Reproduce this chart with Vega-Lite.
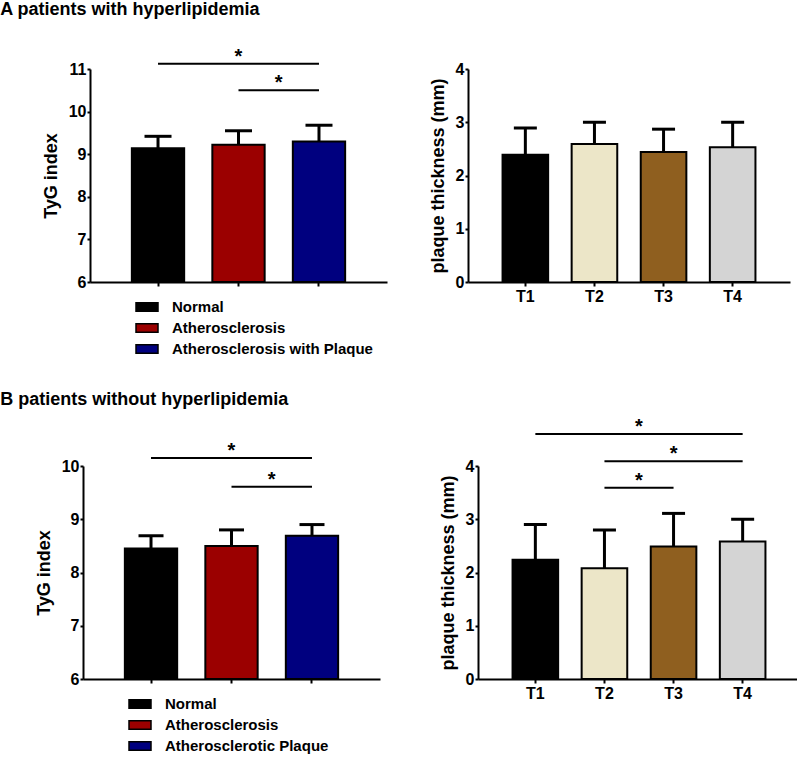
{
  "$schema": "https://vega.github.io/schema/vega-lite/v6.json",
  "padding": {"left": 0, "top": 0, "right": 0, "bottom": 0},
  "background": "white",
  "config": {
    "font": "Liberation Sans",
    "view": {"stroke": null},
    "axis": {"domainColor": "black", "domainWidth": 2, "tickColor": "black", "tickWidth": 2, "labelFontWeight": "bold", "labelFontSize": 16, "labelColor": "black", "titleFontSize": 18, "titleFontWeight": "bold", "titleColor": "black", "grid": false},
    "legend": {"padding": 0}
  },
  "datasets": {
    "tygA": [
      {"group": "Normal", "mean": 9.14, "upper": 9.42},
      {"group": "Atherosclerosis", "mean": 9.22, "upper": 9.55},
      {"group": "Atherosclerosis with Plaque", "mean": 9.30, "upper": 9.68}
    ],
    "sigA": [
      {"from": "Normal", "to": "Atherosclerosis with Plaque", "mid": 1, "y": 11.125},
      {"from": "Atherosclerosis", "to": "Atherosclerosis with Plaque", "mid": 1.5, "y": 10.5}
    ],
    "thickA": [
      {"t": "T1", "mean": 2.39, "upper": 2.89},
      {"t": "T2", "mean": 2.59, "upper": 3.0},
      {"t": "T3", "mean": 2.44, "upper": 2.87},
      {"t": "T4", "mean": 2.53, "upper": 3.0}
    ],
    "tygB": [
      {"group": "Normal", "mean": 8.45, "upper": 8.69},
      {"group": "Atherosclerosis", "mean": 8.50, "upper": 8.80},
      {"group": "Atherosclerotic Plaque", "mean": 8.69, "upper": 8.90}
    ],
    "sigB": [
      {"from": "Normal", "to": "Atherosclerotic Plaque", "mid": 1, "y": 10.15},
      {"from": "Atherosclerosis", "to": "Atherosclerotic Plaque", "mid": 1.5, "y": 9.61}
    ],
    "thickB": [
      {"t": "T1", "mean": 2.24, "upper": 2.90},
      {"t": "T2", "mean": 2.08, "upper": 2.80},
      {"t": "T3", "mean": 2.49, "upper": 3.11},
      {"t": "T4", "mean": 2.58, "upper": 3.0}
    ],
    "sigBR": [
      {"from": "T1", "to": "T4", "mid": 1.5, "y": 4.60},
      {"from": "T2", "to": "T4", "mid": 2, "y": 4.09},
      {"from": "T2", "to": "T3", "mid": 1.5, "y": 3.59}
    ]
  },
  "columns": 1,
  "align": "none",
  "spacing": 34,
  "resolve": {"scale": {"x": "independent", "y": "independent", "color": "independent"}, "legend": {"color": "independent"}},
  "concat": [
    {
      "title": {"text": "A patients with hyperlipidemia", "anchor": "start", "fontSize": 18, "fontWeight": "bold", "color": "black", "offset": 28, "dx": -42},
      "spacing": 42,
      "resolve": {"scale": {"x": "independent", "y": "independent", "color": "independent"}, "legend": {"color": "independent"}},
      "hconcat": [
        {
          "width": 297, "height": 213,
          "resolve": {"scale": {"x": "independent"}},
          "layer": [
            {
              "layer": [
                {
                  "data": {"name": "tygA"},
                  "mark": {"type": "bar", "stroke": "black", "strokeWidth": 2},
                  "encoding": {
                    "x": {"field": "group", "type": "nominal", "sort": null, "scale": {"domain": ["Normal", "Atherosclerosis", "Atherosclerosis with Plaque"], "paddingInner": 0.35, "paddingOuter": 0.52}, "axis": {"title": null, "labels": false, "tickSize": 4}},
                    "y": {"field": "mean", "type": "quantitative", "scale": {"domain": [6, 11], "nice": false, "zero": false}, "axis": {"title": "TyG index", "values": [6, 7, 8, 9, 10, 11], "format": "d", "tickSize": 3, "labelPadding": 1, "titlePadding": 8}},
                    "y2": {"datum": 6},
                    "color": {"field": "group", "type": "nominal", "scale": {"domain": ["Normal", "Atherosclerosis", "Atherosclerosis with Plaque"], "range": ["#000000", "#9B0000", "#00007F"]},
                      "legend": {"title": null, "orient": "none", "legendX": 45, "legendY": 226, "symbolType": "M-1,-0.386H1V0.386H-1Z", "symbolSize": 484, "symbolStrokeColor": "black", "symbolStrokeWidth": 1.5, "symbolOpacity": 1, "labelFontSize": 15, "labelFontWeight": "bold", "labelColor": "black", "labelOffset": 13, "labelLimit": 400, "rowPadding": 1}}
                  }
                },
                {
                  "data": {"name": "tygA"},
                  "mark": {"type": "rule", "strokeWidth": 3, "color": "black"},
                  "encoding": {"x": {"field": "group", "type": "nominal"}, "y": {"field": "mean", "type": "quantitative"}, "y2": {"field": "upper"}}
                },
                {
                  "data": {"name": "tygA"},
                  "mark": {"type": "tick", "thickness": 3, "size": 27, "color": "black", "opacity": 1},
                  "encoding": {"x": {"field": "group", "type": "nominal"}, "y": {"field": "upper", "type": "quantitative"}}
                },
                {
                  "data": {"name": "sigA"},
                  "mark": {"type": "rule", "strokeWidth": 2, "color": "black"},
                  "encoding": {"x": {"field": "from", "type": "nominal"}, "x2": {"field": "to"}, "y": {"field": "y", "type": "quantitative"}}
                }
              ]
            },
            {
              "data": {"name": "sigA"},
              "mark": {"type": "text", "text": "*", "fontSize": 20, "fontWeight": "bold", "baseline": "alphabetic", "dy": -1, "color": "black"},
              "encoding": {"x": {"field": "mid", "type": "quantitative", "scale": {"domain": [-0.845, 2.845], "nice": false, "zero": false}, "axis": null}, "y": {"field": "y", "type": "quantitative"}}
            }
          ]
        },
        {
          "width": 322, "height": 213,
          "layer": [
            {
              "data": {"name": "thickA"},
              "mark": {"type": "bar", "stroke": "black", "strokeWidth": 2},
              "encoding": {
                "x": {"field": "t", "type": "nominal", "sort": null, "scale": {"domain": ["T1", "T2", "T3", "T4"], "paddingInner": 0.34, "paddingOuter": 0.5}, "axis": {"title": null, "labelAngle": 0, "tickSize": 4, "labelPadding": 2}},
                "y": {"field": "mean", "type": "quantitative", "scale": {"domain": [0, 4], "nice": false}, "axis": {"title": "plaque thickness (mm)", "values": [0, 1, 2, 3, 4], "format": "d", "tickSize": 3, "labelPadding": 1, "titlePadding": 8}},
                "y2": {"datum": 0},
                "color": {"field": "t", "type": "nominal", "scale": {"domain": ["T1", "T2", "T3", "T4"], "range": ["#000000", "#ECE6C8", "#8F5F1F", "#D4D4D4"]}, "legend": null}
              }
            },
            {
              "data": {"name": "thickA"},
              "mark": {"type": "rule", "strokeWidth": 3, "color": "black"},
              "encoding": {"x": {"field": "t", "type": "nominal"}, "y": {"field": "mean", "type": "quantitative"}, "y2": {"field": "upper"}}
            },
            {
              "data": {"name": "thickA"},
              "mark": {"type": "tick", "thickness": 3, "size": 23, "color": "black", "opacity": 1},
              "encoding": {"x": {"field": "t", "type": "nominal"}, "y": {"field": "upper", "type": "quantitative"}}
            }
          ]
        }
      ]
    },
    {
      "title": {"text": "B patients without hyperlipidemia", "anchor": "start", "fontSize": 18, "fontWeight": "bold", "color": "black", "offset": 8, "dx": -35},
      "spacing": 52,
      "resolve": {"scale": {"x": "independent", "y": "independent", "color": "independent"}, "legend": {"color": "independent"}},
      "hconcat": [
        {
          "width": 297, "height": 213,
          "resolve": {"scale": {"x": "independent"}},
          "layer": [
            {
              "layer": [
                {
                  "data": {"name": "tygB"},
                  "mark": {"type": "bar", "stroke": "black", "strokeWidth": 2},
                  "encoding": {
                    "x": {"field": "group", "type": "nominal", "sort": null, "scale": {"domain": ["Normal", "Atherosclerosis", "Atherosclerotic Plaque"], "paddingInner": 0.35, "paddingOuter": 0.52, "range": [-7, 290]}, "axis": {"title": null, "labels": false, "tickSize": 4}},
                    "y": {"field": "mean", "type": "quantitative", "scale": {"domain": [6, 10], "nice": false, "zero": false}, "axis": {"title": "TyG index", "values": [6, 7, 8, 9, 10], "format": "d", "tickSize": 3, "labelPadding": 1, "titlePadding": 8, "offset": 7}},
                    "y2": {"datum": 6},
                    "color": {"field": "group", "type": "nominal", "scale": {"domain": ["Normal", "Atherosclerosis", "Atherosclerotic Plaque"], "range": ["#000000", "#9B0000", "#00007F"]},
                      "legend": {"title": null, "orient": "none", "legendX": 38, "legendY": 226, "symbolType": "M-1,-0.386H1V0.386H-1Z", "symbolSize": 484, "symbolStrokeColor": "black", "symbolStrokeWidth": 1.5, "symbolOpacity": 1, "labelFontSize": 15, "labelFontWeight": "bold", "labelColor": "black", "labelOffset": 13, "labelLimit": 400, "rowPadding": 1}}
                  }
                },
                {
                  "data": {"name": "tygB"},
                  "mark": {"type": "rule", "strokeWidth": 3, "color": "black"},
                  "encoding": {"x": {"field": "group", "type": "nominal"}, "y": {"field": "mean", "type": "quantitative"}, "y2": {"field": "upper"}}
                },
                {
                  "data": {"name": "tygB"},
                  "mark": {"type": "tick", "thickness": 3, "size": 25, "color": "black", "opacity": 1},
                  "encoding": {"x": {"field": "group", "type": "nominal"}, "y": {"field": "upper", "type": "quantitative"}}
                },
                {
                  "data": {"name": "sigB"},
                  "mark": {"type": "rule", "strokeWidth": 2, "color": "black"},
                  "encoding": {"x": {"field": "from", "type": "nominal"}, "x2": {"field": "to"}, "y": {"field": "y", "type": "quantitative"}}
                }
              ]
            },
            {
              "data": {"name": "sigB"},
              "mark": {"type": "text", "text": "*", "fontSize": 20, "fontWeight": "bold", "baseline": "alphabetic", "dy": -1, "color": "black"},
              "encoding": {"x": {"field": "mid", "type": "quantitative", "scale": {"domain": [-0.845, 2.845], "nice": false, "zero": false, "range": [-7, 290]}, "axis": null}, "y": {"field": "y", "type": "quantitative"}}
            }
          ]
        },
        {
          "width": 322, "height": 213,
          "resolve": {"scale": {"x": "independent"}},
          "layer": [
            {
              "layer": [
                {
                  "data": {"name": "thickB"},
                  "mark": {"type": "bar", "stroke": "black", "strokeWidth": 2},
                  "encoding": {
                    "x": {"field": "t", "type": "nominal", "sort": null, "scale": {"domain": ["T1", "T2", "T3", "T4"], "paddingInner": 0.34, "paddingOuter": 0.5}, "axis": {"title": null, "labelAngle": 0, "tickSize": 4, "labelPadding": 2}},
                    "y": {"field": "mean", "type": "quantitative", "scale": {"domain": [0, 4], "nice": false}, "axis": {"title": "plaque thickness (mm)", "values": [0, 1, 2, 3, 4], "format": "d", "tickSize": 3, "labelPadding": 1, "titlePadding": 8}},
                    "y2": {"datum": 0},
                    "color": {"field": "t", "type": "nominal", "scale": {"domain": ["T1", "T2", "T3", "T4"], "range": ["#000000", "#ECE6C8", "#8F5F1F", "#D4D4D4"]}, "legend": null}
                  }
                },
                {
                  "data": {"name": "thickB"},
                  "mark": {"type": "rule", "strokeWidth": 3, "color": "black"},
                  "encoding": {"x": {"field": "t", "type": "nominal"}, "y": {"field": "mean", "type": "quantitative"}, "y2": {"field": "upper"}}
                },
                {
                  "data": {"name": "thickB"},
                  "mark": {"type": "tick", "thickness": 3, "size": 23, "color": "black", "opacity": 1},
                  "encoding": {"x": {"field": "t", "type": "nominal"}, "y": {"field": "upper", "type": "quantitative"}}
                },
                {
                  "data": {"name": "sigBR"},
                  "mark": {"type": "rule", "strokeWidth": 2, "color": "black"},
                  "encoding": {"x": {"field": "from", "type": "nominal"}, "x2": {"field": "to"}, "y": {"field": "y", "type": "quantitative"}}
                }
              ]
            },
            {
              "data": {"name": "sigBR"},
              "mark": {"type": "text", "text": "*", "fontSize": 20, "fontWeight": "bold", "baseline": "alphabetic", "dy": -1, "color": "black"},
              "encoding": {"x": {"field": "mid", "type": "quantitative", "scale": {"domain": [-0.83, 3.83], "nice": false, "zero": false}, "axis": null}, "y": {"field": "y", "type": "quantitative"}}
            }
          ]
        }
      ]
    }
  ]
}
